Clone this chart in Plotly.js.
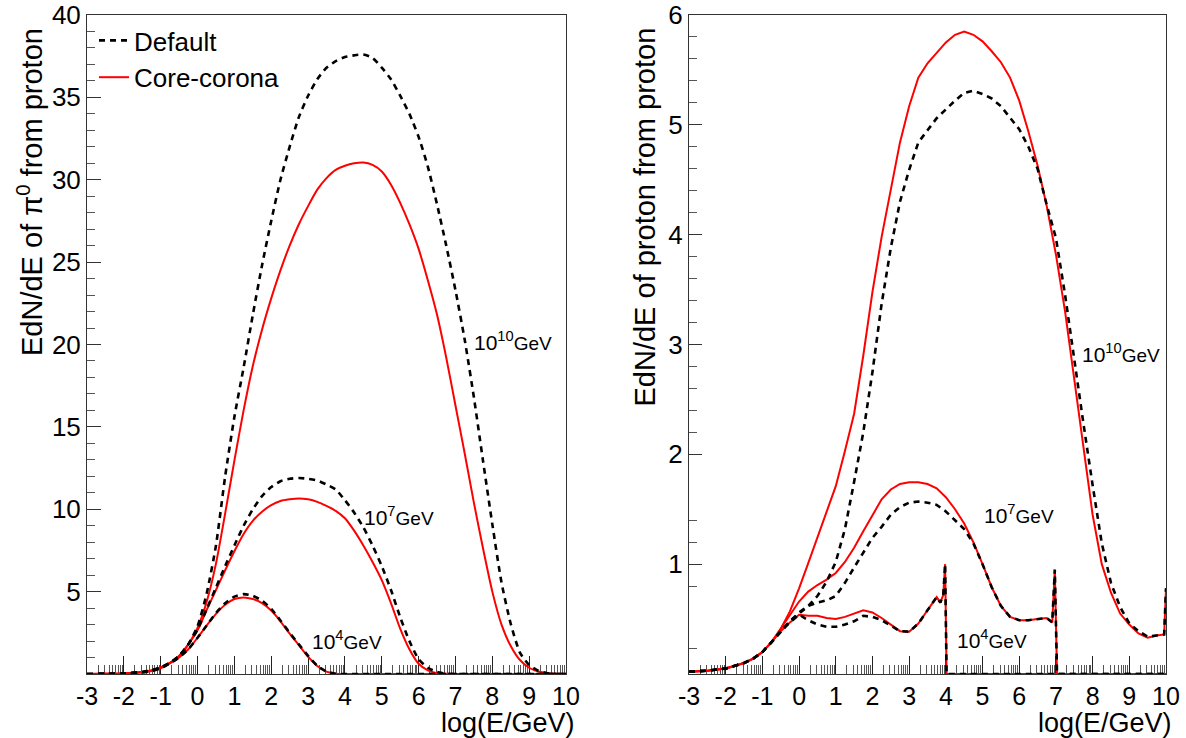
<!DOCTYPE html>
<html>
<head>
<meta charset="utf-8">
<script src="https://cdn.plot.ly/plotly-3.0.1.min.js"></script>
<style>
  html, body { margin: 0; padding: 0; background: #fff; }
  #chart { width: 1186px; height: 738px; }
</style>
</head>
<body>
<div id="chart"></div>
<script>
// ---------- Data ----------
// x tick labels (log10 of E/GeV)
const xTickVals = [-3, -2, -1, 0, 1, 2, 3, 4, 5, 6, 7, 8, 9, 10];
const xTickText = ["-3", "-2", "-1", "0", "1", "2", "3", "4", "5", "6", "7", "8", "9", "10"];
const yLeftTicks = [5, 10, 15, 20, 25, 30, 35, 40];
const yRightTicks = [1, 2, 3, 4, 5, 6];
const yRightMinor = [0.234, 0.8, 1.2, 1.4, 2.2, 2.4, 2.6, 2.8, 3.2, 3.4, 3.6, 3.8, 4.2, 4.4, 4.6, 4.8, 5.2, 5.4, 5.6, 5.8];

// Left panel: EdN/dE of pi0 from proton
const xLeft = [-3, -2.5, -2, -1.5, -1.25, -1, -0.75, -0.5, -0.25, 0, 0.25, 0.5, 0.75, 1, 1.25, 1.5, 1.75, 2, 2.25, 2.5, 2.75, 3, 3.25, 3.5, 3.75, 4, 4.25, 4.5, 4.75, 5, 5.25, 5.5, 5.75, 6, 6.25, 6.5, 6.75, 7, 7.25, 7.5, 7.75, 8, 8.25, 8.5, 8.75, 9, 9.25, 9.5, 9.75, 10];
const pi0Default10 = [0, 0.01, 0.03, 0.12, 0.22, 0.4, 0.68, 1.1, 1.8, 2.9, 4.9, 7.8, 12.0, 15.6, 18.6, 21.8, 24.8, 27.5, 30.0, 32.0, 33.8, 35.1, 36.1, 36.8, 37.2, 37.45, 37.55, 37.6, 37.4, 36.8, 36.1, 35.1, 34.0, 32.6, 30.8, 28.5, 26.0, 23.3, 20.3, 16.8, 12.9, 9.1, 5.55, 3.05, 1.3, 0.55, 0.2, 0.05, 0, 0];
const pi0Corona10 = [0, 0.01, 0.03, 0.12, 0.22, 0.4, 0.68, 1.1, 1.8, 2.8, 4.4, 6.7, 9.75, 12.95, 16.0, 18.7, 20.9, 22.8, 24.5, 26.0, 27.3, 28.4, 29.4, 30.1, 30.6, 30.85, 31.0, 31.05, 30.9, 30.5, 29.7, 28.6, 27.3, 25.8, 23.9, 21.8, 19.2, 16.3, 13.4, 10.4, 7.6, 5.0, 3.0, 1.7, 0.85, 0.38, 0.15, 0.05, 0.01, 0];
const pi0Default7 = [0, 0.01, 0.03, 0.12, 0.22, 0.4, 0.68, 1.1, 1.8, 2.7, 3.95, 5.25, 6.55, 7.8, 9.0, 10.0, 10.8, 11.35, 11.7, 11.85, 11.9, 11.85, 11.75, 11.5, 11.2, 10.55, 9.8, 8.9, 7.8, 6.55, 5.1, 3.45, 2.0, 0.9, 0.38, 0.12, 0.02, 0, 0, 0, 0, 0, 0, 0, 0, 0, 0, 0, 0, 0];
const pi0Corona7 = [0, 0.01, 0.03, 0.12, 0.22, 0.4, 0.68, 1.1, 1.8, 2.65, 3.9, 5.1, 6.3, 7.45, 8.5, 9.3, 9.85, 10.25, 10.5, 10.6, 10.65, 10.6, 10.45, 10.2, 9.9, 9.45, 8.7, 7.8, 6.8, 5.7, 4.3, 2.75, 1.5, 0.62, 0.22, 0.05, 0.01, 0, 0, 0, 0, 0, 0, 0, 0, 0, 0, 0, 0, 0];
const pi0Default4 = [0, 0.01, 0.03, 0.1, 0.18, 0.35, 0.65, 1.0, 1.5, 2.2, 2.95, 3.7, 4.3, 4.7, 4.85, 4.75, 4.45, 3.95, 3.25, 2.5, 1.8, 1.1, 0.5, 0.15, 0.02, 0, 0, 0, 0, 0, 0, 0, 0, 0, 0, 0, 0, 0, 0, 0, 0, 0, 0, 0, 0, 0, 0, 0, 0, 0];
const pi0Corona4 = [0, 0.01, 0.03, 0.1, 0.18, 0.35, 0.65, 1.0, 1.5, 2.2, 2.95, 3.65, 4.2, 4.55, 4.65, 4.55, 4.3, 3.85, 3.2, 2.45, 1.75, 1.05, 0.48, 0.14, 0.02, 0, 0, 0, 0, 0, 0, 0, 0, 0, 0, 0, 0, 0, 0, 0, 0, 0, 0, 0, 0, 0, 0, 0, 0, 0];

// Right panel: EdN/dE of proton from proton
const xRight10 = [-3, -2.5, -2, -1.5, -1.25, -1, -0.75, -0.5, -0.25, 0, 0.25, 0.5, 0.75, 1, 1.25, 1.5, 1.75, 2, 2.25, 2.5, 2.75, 3, 3.25, 3.5, 3.75, 4, 4.25, 4.5, 4.75, 5, 5.25, 5.5, 5.75, 6, 6.25, 6.5, 6.75, 7, 7.25, 7.5, 7.75, 8, 8.25, 8.5, 8.75, 9, 9.25, 9.5, 9.75, 9.95, 10];
const pCorona10 = [0.02, 0.03, 0.05, 0.1, 0.14, 0.2, 0.29, 0.41, 0.57, 0.78, 1.01, 1.25, 1.47, 1.71, 2.03, 2.37, 2.9, 3.48, 3.98, 4.40, 4.84, 5.17, 5.43, 5.56, 5.65, 5.75, 5.82, 5.85, 5.82, 5.76, 5.67, 5.57, 5.43, 5.22, 4.94, 4.63, 4.26, 3.82, 3.30, 2.70, 2.06, 1.45, 1.0, 0.74, 0.55, 0.45, 0.37, 0.33, 0.35, 0.36, 0.78];
const pDefault10 = [0.02, 0.03, 0.05, 0.1, 0.14, 0.2, 0.29, 0.39, 0.48, 0.55, 0.62, 0.71, 0.84, 1.02, 1.32, 1.75, 2.2, 2.75, 3.37, 3.88, 4.3, 4.59, 4.84, 4.95, 5.06, 5.14, 5.22, 5.29, 5.31, 5.28, 5.24, 5.17, 5.07, 4.96, 4.80, 4.60, 4.27, 3.97, 3.45, 2.85, 2.28, 1.72, 1.19, 0.83, 0.61, 0.46, 0.39, 0.34, 0.35, 0.36, 0.78];

const xRight7 = [-3, -2.5, -2, -1.5, -1.25, -1, -0.75, -0.5, -0.25, 0, 0.25, 0.5, 0.75, 1, 1.25, 1.5, 1.75, 2, 2.25, 2.5, 2.75, 3, 3.25, 3.5, 3.75, 4, 4.25, 4.5, 4.75, 5, 5.25, 5.5, 5.75, 6, 6.25, 6.5, 6.75, 6.9, 6.97, 7.03, 7.5, 8, 8.5, 9, 9.5, 10];
const pCorona7 = [0.02, 0.03, 0.05, 0.1, 0.14, 0.2, 0.29, 0.41, 0.54, 0.66, 0.75, 0.81, 0.86, 0.92, 1.02, 1.15, 1.30, 1.45, 1.59, 1.68, 1.73, 1.745, 1.745, 1.73, 1.69, 1.61, 1.50, 1.37, 1.20, 1.0, 0.79, 0.62, 0.52, 0.49, 0.49, 0.50, 0.51, 0.47, 0.95, 0, 0, 0, 0, 0, 0, 0];
const pDefault7 = [0.02, 0.03, 0.05, 0.1, 0.14, 0.2, 0.29, 0.39, 0.48, 0.56, 0.62, 0.65, 0.67, 0.71, 0.83, 0.97, 1.1, 1.24, 1.34, 1.45, 1.52, 1.56, 1.57, 1.56, 1.54, 1.48, 1.40, 1.32, 1.19, 1.0, 0.79, 0.62, 0.52, 0.49, 0.49, 0.50, 0.51, 0.47, 0.95, 0, 0, 0, 0, 0, 0, 0];

const xRight4 = [-3, -2.5, -2, -1.5, -1.25, -1, -0.75, -0.5, -0.25, 0, 0.25, 0.5, 0.75, 1, 1.25, 1.5, 1.75, 2, 2.25, 2.5, 2.75, 3, 3.25, 3.5, 3.75, 3.85, 3.93, 3.98, 4.02, 4.5, 5, 5.5, 6, 6.5, 7, 7.5, 8, 8.5, 9, 9.5, 10];
const pCorona4 = [0.02, 0.03, 0.05, 0.1, 0.14, 0.2, 0.29, 0.39, 0.47, 0.54, 0.53, 0.53, 0.51, 0.50, 0.52, 0.55, 0.58, 0.56, 0.51, 0.45, 0.39, 0.385, 0.46, 0.58, 0.70, 0.65, 0.72, 1.0, 0, 0, 0, 0, 0, 0, 0, 0, 0, 0, 0, 0, 0];
const pDefault4 = [0.02, 0.03, 0.05, 0.1, 0.14, 0.2, 0.29, 0.39, 0.47, 0.54, 0.49, 0.45, 0.43, 0.43, 0.45, 0.48, 0.53, 0.52, 0.49, 0.44, 0.39, 0.385, 0.46, 0.58, 0.70, 0.65, 0.72, 1.0, 0, 0, 0, 0, 0, 0, 0, 0, 0, 0, 0, 0, 0];

// Curve labels
const energyLabels = ["10<sup>10</sup>", "10<sup>7</sup>", "10<sup>4</sup>"];
const leftLabelPos = [[7.45, 20.2], [4.46, 9.6], [3.05, 2.05]];
const rightLabelPos = [[7.65, 2.92], [4.98, 1.46], [4.25, 0.32]];

// ---------- Styling ----------
const FONT = "Liberation Sans, Arial, Helvetica, sans-serif";
const RED = "#ff0000";
const BLACK = "#000000";

// log-distributed minor tick positions on the x axes (as in the reference)
const minorX = [];
for (let n = -3; n < 10; n++) {
  for (let k = 2; k <= 9; k++) minorX.push(n + Math.log10(k));
}

function curve(x, y, model, xa, ya, showLegend, smooth) {
  const isDef = model === "Default";
  const line = isDef ? {color: BLACK, width: 2.6, dash: "6px,5px"} : {color: RED, width: 2};
  if (smooth) { line.shape = "spline"; line.smoothing = 0.6; }
  return {
    type: "scatter", mode: "lines", x: x, y: y,
    xaxis: xa, yaxis: ya,
    name: model, legendgroup: model, showlegend: showLegend,
    legendrank: isDef ? 1 : 2,
    line: line,
    hoverinfo: "skip"
  };
}

const traces = [
  // left panel: core-corona first (drawn below), default on top
  curve(xLeft, pi0Corona10, "Core-corona", "x", "y", true, true),
  curve(xLeft, pi0Corona7, "Core-corona", "x", "y", false, true),
  curve(xLeft, pi0Corona4, "Core-corona", "x", "y", false, true),
  curve(xLeft, pi0Default10, "Default", "x", "y", true, true),
  curve(xLeft, pi0Default7, "Default", "x", "y", false, true),
  curve(xLeft, pi0Default4, "Default", "x", "y", false, true),
  // right panel
  curve(xRight10, pCorona10, "Core-corona", "x2", "y2", false, false),
  curve(xRight7, pCorona7, "Core-corona", "x2", "y2", false, false),
  curve(xRight4, pCorona4, "Core-corona", "x2", "y2", false, false),
  curve(xRight10, pDefault10, "Default", "x2", "y2", false, false),
  curve(xRight7, pDefault7, "Default", "x2", "y2", false, false),
  curve(xRight4, pDefault4, "Default", "x2", "y2", false, false)
];

function xAxis(domain, anchor) {
  return {
    domain: domain, anchor: anchor, range: [-3, 10],
    tickmode: "array", tickvals: xTickVals, ticktext: xTickText,
    ticks: "inside", ticklen: 18, tickwidth: 1, tickcolor: "#222",
    minor: {tickmode: "array", tickvals: minorX, ticks: "inside", ticklen: 9, tickwidth: 1, tickcolor: "#555"},
    showline: true, linecolor: "#333", linewidth: 1, mirror: true,
    showgrid: false, zeroline: false, layer: "below traces",
    tickfont: {family: FONT, size: 25, color: "#000"}, fixedrange: true
  };
}

const yDomain = [64 / 738, 723 / 738];

const layout = {
  width: 1186, height: 738,
  margin: {l: 0, r: 0, t: 0, b: 0},
  paper_bgcolor: "#ffffff", plot_bgcolor: "#ffffff",
  font: {family: FONT, color: "#000"},
  showlegend: true,
  legend: {
    x: 94 / 1186, y: 1 - 17 / 738, xanchor: "left", yanchor: "top",
    bgcolor: "rgba(0,0,0,0)", borderwidth: 0,
    font: {family: FONT, size: 26, color: "#000"},
    itemwidth: 30, traceorder: "normal"
  },
  xaxis: xAxis([87 / 1186, 566 / 1186], "y"),
  xaxis2: xAxis([689 / 1186, 1166 / 1186], "y2"),
  yaxis: {
    domain: yDomain, anchor: "x", range: [0, 40],
    tickmode: "array", tickvals: yLeftTicks, ticktext: yLeftTicks.map(String),
    ticks: "inside", ticklen: 14, tickwidth: 1, tickcolor: "#333",
    minor: {dtick: 1, ticks: "inside", ticklen: 8, tickwidth: 1, tickcolor: "#555"},
    showline: true, linecolor: "#333", linewidth: 1, mirror: true,
    showgrid: false, zeroline: false, layer: "below traces",
    tickfont: {family: FONT, size: 26, color: "#000"}, fixedrange: true
  },
  yaxis2: {
    domain: yDomain, anchor: "x2", range: [0, 6],
    tickmode: "array", tickvals: yRightTicks, ticktext: yRightTicks.map(String),
    ticks: "inside", ticklen: 13, tickwidth: 1, tickcolor: "#333",
    minor: {tickmode: "array", tickvals: yRightMinor, ticks: "inside", ticklen: 8, tickwidth: 1, tickcolor: "#555"},
    showline: true, linecolor: "#333", linewidth: 1, mirror: true,
    showgrid: false, zeroline: false, layer: "below traces",
    tickfont: {family: FONT, size: 26, color: "#000"}, fixedrange: true
  },
  annotations: []
};

// axis titles (ROOT-style: x title right-aligned, y title top-aligned)
layout.annotations.push(
  {xref: "paper", yref: "paper", x: 577 / 1186, y: 1 - 723 / 738, xanchor: "right", yanchor: "middle",
   text: "log(E/GeV)", showarrow: false, font: {family: FONT, size: 27, color: "#000"}},
  {xref: "paper", yref: "paper", x: 1174 / 1186, y: 1 - 723 / 738, xanchor: "right", yanchor: "middle",
   text: "log(E/GeV)", showarrow: false, font: {family: FONT, size: 27, color: "#000"}},
  {xref: "paper", yref: "paper", x: 30 / 1186, y: 1 - 26 / 738, xanchor: "center", yanchor: "top",
   textangle: -90, text: "EdN/dE of π<sup>0</sup> from proton", showarrow: false,
   font: {family: FONT, size: 29, color: "#000"}},
  {xref: "paper", yref: "paper", x: 645 / 1186, y: 1 - 26 / 738, xanchor: "center", yanchor: "top",
   textangle: -90, text: "EdN/dE of proton from proton", showarrow: false,
   font: {family: FONT, size: 29, color: "#000"}}
);

// energy labels
energyLabels.forEach((lab, i) => {
  const txt = lab + "<span style='font-size:19px'>GeV</span>";
  layout.annotations.push(
    {xref: "x", yref: "y", x: leftLabelPos[i][0], y: leftLabelPos[i][1], xanchor: "left", yanchor: "middle",
     text: txt, showarrow: false, font: {family: FONT, size: 21, color: "#000"}},
    {xref: "x2", yref: "y2", x: rightLabelPos[i][0], y: rightLabelPos[i][1], xanchor: "left", yanchor: "middle",
     text: txt, showarrow: false, font: {family: FONT, size: 21, color: "#000"}}
  );
});

Plotly.newPlot("chart", traces, layout, {staticPlot: true, displayModeBar: false});
</script>
</body>
</html>
